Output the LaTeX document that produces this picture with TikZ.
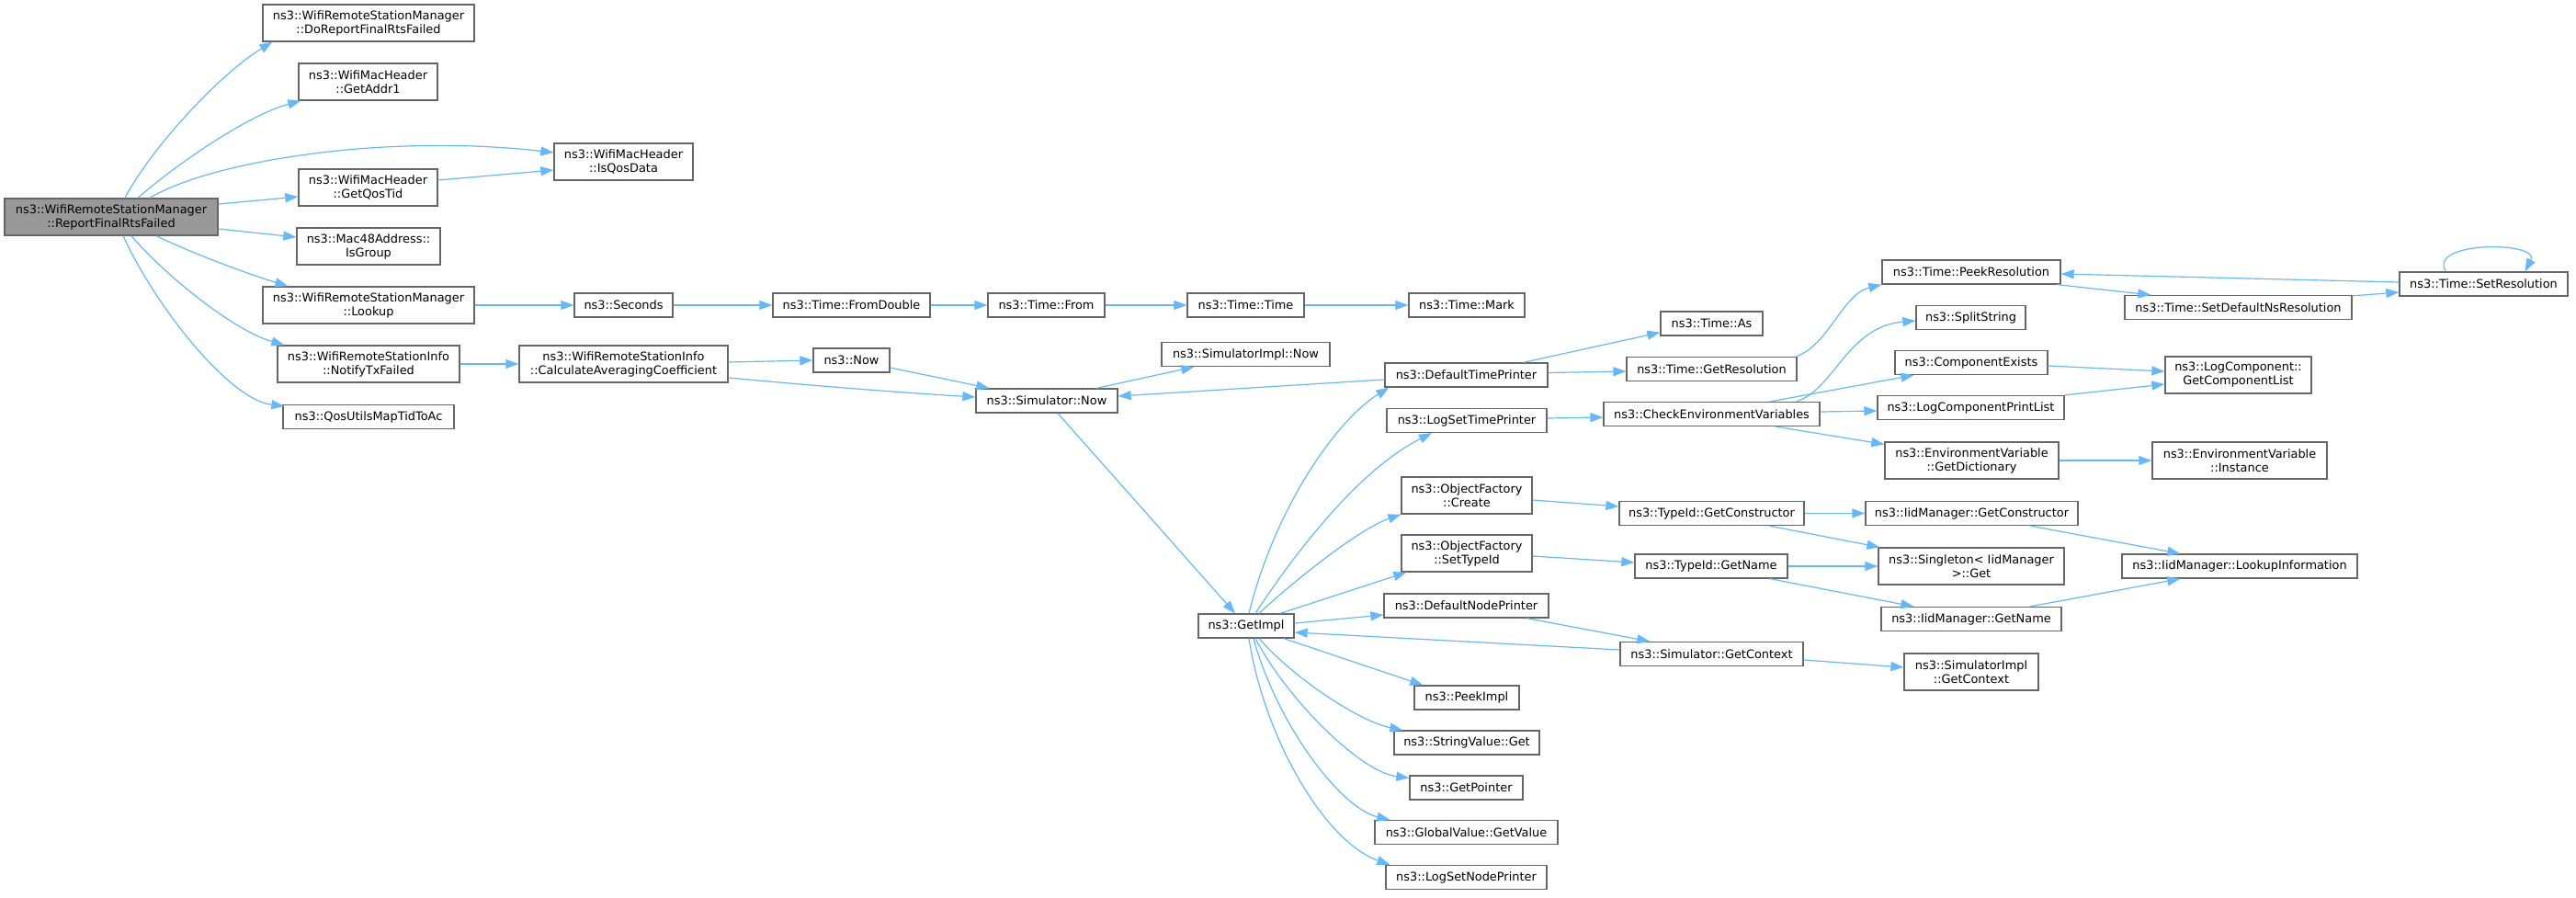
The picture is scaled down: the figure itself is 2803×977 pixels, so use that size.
\documentclass[tikz,border=0pt]{standalone}
\usepackage{fontspec}
\setmainfont{DejaVu Sans}
\usetikzlibrary{arrows.meta}
\definecolor{edgec}{HTML}{63B8FF}
\definecolor{bord}{HTML}{666666}
\definecolor{mainfill}{HTML}{999999}
\tikzset{
  fn/.style={draw=bord, line width=1.3pt, fill=white, font=\fontsize{12.9}{15}\selectfont,
    align=center, inner sep=0pt, text=black},
  one/.style={fn, minimum height=26pt},
  two/.style={fn, minimum height=40pt},
  edge/.style={draw=edgec, line width=1.2pt, -{Triangle[length=14pt,width=10pt]}},
}
\begin{document}
\begin{tikzpicture}[x=1pt,y=-1pt]
\useasboundingbox (0,0) rectangle (2803,977);
% column 0/1
\node[two, fill=mainfill, minimum width=232pt] (main) at (121,236) {ns3::WifiRemoteStationManager\\::ReportFinalRtsFailed};
\node[two, minimum width=230pt] (doreport) at (401,25) {ns3::WifiRemoteStationManager\\::DoReportFinalRtsFailed};
\node[two, minimum width=151pt] (getaddr1) at (400.5,89) {ns3::WifiMacHeader\\::GetAddr1};
\node[two, minimum width=151pt] (getqostid) at (400.5,204) {ns3::WifiMacHeader\\::GetQosTid};
\node[two, minimum width=156pt] (isgroup) at (401,268) {ns3::Mac48Address::\\IsGroup};
\node[two, minimum width=230pt] (lookup) at (401,332) {ns3::WifiRemoteStationManager\\::Lookup};
\node[two, minimum width=198pt] (notify) at (401,396) {ns3::WifiRemoteStationInfo\\::NotifyTxFailed};
\node[one, minimum width=186pt] (qosutils) at (401,453.5) {ns3::QosUtilsMapTidToAc};
% column 2
\node[two, minimum width=151pt] (isqosdata) at (678.5,176) {ns3::WifiMacHeader\\::IsQosData};
\node[one, minimum width=107pt] (seconds) at (678.5,332) {ns3::Seconds};
\node[two, minimum width=227pt] (calcavg) at (678.5,396) {ns3::WifiRemoteStationInfo\\::CalculateAveragingCoefficient};
% column 3
\node[one, minimum width=171pt] (fromdouble) at (926.5,332) {ns3::Time::FromDouble};
\node[one, minimum width=83pt] (now) at (926.5,392) {ns3::Now};
% column 4
\node[one, minimum width=127pt] (timefrom) at (1138.5,332) {ns3::Time::From};
\node[one, minimum width=154pt] (simnow) at (1139,436) {ns3::Simulator::Now};
% column 5
\node[one, minimum width=127pt] (timetime) at (1355.5,332) {ns3::Time::Time};
\node[one, minimum width=183pt] (simimplnow) at (1355.5,385.5) {ns3::SimulatorImpl::Now};
\node[one, minimum width=104pt] (getimpl) at (1356,681) {ns3::GetImpl};
% column 6
\node[one, minimum width=126pt] (mark) at (1596,332) {ns3::Time::Mark};
\node[one, minimum width=177pt] (deftimeprinter) at (1595.5,408) {ns3::DefaultTimePrinter};
\node[one, minimum width=174pt] (logsettimeprinter) at (1596,457.5) {ns3::LogSetTimePrinter};
\node[two, minimum width=142pt] (objcreate) at (1596,539) {ns3::ObjectFactory\\::Create};
\node[two, minimum width=142pt] (objsettypeid) at (1596,602) {ns3::ObjectFactory\\::SetTypeId};
\node[one, minimum width=179pt] (defnodeprinter) at (1595.5,659) {ns3::DefaultNodePrinter};
\node[one, minimum width=114pt] (peekimpl) at (1596,759) {ns3::PeekImpl};
\node[one, minimum width=158pt] (stringget) at (1596,808) {ns3::StringValue::Get};
\node[one, minimum width=123pt] (getpointer) at (1595.5,857) {ns3::GetPointer};
\node[one, minimum width=199pt] (globalgetvalue) at (1595.5,905.5) {ns3::GlobalValue::GetValue};
\node[one, minimum width=175pt] (logsetnodeprinter) at (1595.5,954.5) {ns3::LogSetNodePrinter};
% column 7
\node[one, minimum width=111pt] (timeas) at (1862.5,352) {ns3::Time::As};
\node[one, minimum width=185pt] (getres) at (1862.5,401.5) {ns3::Time::GetResolution};
\node[one, minimum width=235pt] (checkenv) at (1862.5,450.5) {ns3::CheckEnvironmentVariables};
\node[one, minimum width=201pt] (typeidgetctor) at (1862.5,558.5) {ns3::TypeId::GetConstructor};
\node[one, minimum width=166pt] (typeidgetname) at (1862,616) {ns3::TypeId::GetName};
\node[one, minimum width=199pt] (simgetctx) at (1862.5,711.5) {ns3::Simulator::GetContext};
% column 8
\node[one, minimum width=194pt] (peekres) at (2145,296) {ns3::Time::PeekResolution};
\node[one, minimum width=119pt] (splitstring) at (2144.5,345.5) {ns3::SplitString};
\node[one, minimum width=166pt] (compexists) at (2145,394.5) {ns3::ComponentExists};
\node[one, minimum width=203pt] (logcompprintlist) at (2144.5,443.5) {ns3::LogComponentPrintList};
\node[two, minimum width=189pt] (getdict) at (2145.5,501) {ns3::EnvironmentVariable\\::GetDictionary};
\node[one, minimum width=231pt] (iidgetctor) at (2145.5,558.5) {ns3::IidManager::GetConstructor};
\node[two, minimum width=202pt] (singleton) at (2145,616) {ns3::Singleton< IidManager\\>::Get};
\node[one, minimum width=196pt] (iidgetname) at (2145,673.5) {ns3::IidManager::GetName};
\node[two, minimum width=146pt] (simimplgetctx) at (2145,731) {ns3::SimulatorImpl\\::GetContext};
% column 9
\node[one, minimum width=247pt] (setdefns) at (2435.5,334.5) {ns3::Time::SetDefaultNsResolution};
\node[two, minimum width=159pt] (getcomplist) at (2435.5,408) {ns3::LogComponent::\\GetComponentList};
\node[two, minimum width=190pt] (envinstance) at (2437,501) {ns3::EnvironmentVariable\\::Instance};
\node[one, minimum width=256pt] (lookupinfo) at (2437,616) {ns3::IidManager::LookupInformation};
% column 10
\node[one, minimum width=183pt] (setres) at (2702.5,309) {ns3::Time::SetResolution};

% ---- edges from main
\draw[edge] ([xshift=15pt]main.north) .. controls (165,160) and (240,80) .. ([xshift=11pt]doreport.south west);
\draw[edge] ([xshift=29pt]main.north) .. controls (190,180) and (270,125) .. ([xshift=3pt]getaddr1.south west);
\draw[edge] ([xshift=42pt]main.north) .. controls (230,175) and (420,145) .. ([yshift=10pt]isqosdata.west);
\draw[edge] ([yshift=14pt]main.east) -- ([yshift=-10pt]getqostid.west);
\draw[edge] ([yshift=8pt]getqostid.east) -- ([yshift=-9pt]isqosdata.west);
\draw[edge] ([yshift=-13pt]main.east) -- ([yshift=10pt]isgroup.west);
\draw[edge] ([xshift=49pt]main.south) .. controls (215,278) and (270,298) .. ([xshift=28pt]lookup.north west);
\draw[edge] ([xshift=22pt]main.south) .. controls (180,300) and (255,360) .. ([xshift=8pt]notify.north west);
\draw[edge] ([xshift=13pt]main.south) .. controls (170,335) and (250,435) .. ([xshift=2pt,yshift=-2pt]qosutils.north west);
% ---- time chain
\draw[edge] (lookup.east) -- (seconds.west);
\draw[edge] (seconds.east) -- (fromdouble.west);
\draw[edge] (fromdouble.east) -- (timefrom.west);
\draw[edge] (timefrom.east) -- (timetime.west);
\draw[edge] (timetime.east) -- (mark.west);
% ---- notify chain
\draw[edge] (notify.east) -- (calcavg.west);
\draw[edge] ([yshift=2pt]calcavg.east) -- (now.west);
\draw[edge] ([yshift=-15pt]calcavg.east) .. controls (900,421) and (980,427) .. ([yshift=4pt]simnow.west);
\draw[edge] ([yshift=-8pt]now.east) -- ([xshift=15pt]simnow.north west);
\draw[edge] ([xshift=54pt]simnow.north) -- ([xshift=36pt]simimplnow.south west);
\draw[edge] ([yshift=-5pt]deftimeprinter.west) -- ([yshift=5pt]simnow.east);
\draw[edge] ([xshift=12pt]simnow.south) -- ([xshift=-12pt]getimpl.north);
% ---- GetImpl fan
\draw[edge] ([xshift=3pt]getimpl.north) .. controls (1385,560) and (1450,460) .. ([xshift=5pt]deftimeprinter.south west);
\draw[edge] ([xshift=10pt]getimpl.north) .. controls (1410,600) and (1480,510) .. ([xshift=-38pt]logsettimeprinter.south);
\draw[edge] ([xshift=14pt]getimpl.north) .. controls (1410,630) and (1480,575) .. (objcreate.south west);
\draw[edge] ([xshift=37pt]getimpl.north) -- ([xshift=6pt]objsettypeid.south west);
\draw[edge] ([yshift=3pt]getimpl.east) -- ([yshift=-10pt]defnodeprinter.west);
\draw[edge] ([yshift=4.5pt]simgetctx.west) -- ([yshift=-7pt]getimpl.east);
\draw[edge] ([xshift=41pt]getimpl.south) -- ([xshift=10pt]peekimpl.north west);
\draw[edge] ([xshift=14pt]getimpl.south) .. controls (1410,740) and (1480,785) .. ([xshift=10pt]stringget.north west);
\draw[edge] ([xshift=10pt]getimpl.south) .. controls (1400,760) and (1480,840) .. ([yshift=-3pt]getpointer.north west);
\draw[edge] ([xshift=8pt]getimpl.south) .. controls (1390,790) and (1460,880) .. ([xshift=17pt]globalgetvalue.north west);
\draw[edge] ([xshift=3pt]getimpl.south) .. controls (1375,800) and (1440,915) .. ([xshift=5pt]logsetnodeprinter.north west);
% ---- DefaultTimePrinter
\draw[edge] ([xshift=62pt]deftimeprinter.north) -- ([yshift=4pt]timeas.south west);
\draw[edge] ([yshift=2.5pt]deftimeprinter.east) -- ([yshift=-2.5pt]getres.west);
\draw[edge] ([xshift=-1pt]getres.north east) .. controls (1990,375) and (2005,320) .. (peekres.south west);
\draw[edge] ([xshift=-4pt]peekres.south east) -- ([xshift=29pt]setdefns.north west);
\draw[edge] ([yshift=-1pt]setdefns.north east) -- ([yshift=-9pt]setres.west);
\draw[edge] ([yshift=2pt]setres.west) -- ([yshift=-2pt]peekres.east);
\draw[edge] ([xshift=-41pt]setres.north) .. controls (2640,262) and (2765,262) .. ([xshift=45pt]setres.north);
% ---- LogSetTimePrinter
\draw[edge] ([yshift=2.5pt]logsettimeprinter.east) -- ([yshift=-3.5pt]checkenv.west);
\draw[edge] ([xshift=92pt]checkenv.north) .. controls (1995,425) and (2010,355) .. ([yshift=-3.5pt]splitstring.west);
\draw[edge] ([xshift=64pt]checkenv.north) -- ([xshift=21pt]compexists.south west);
\draw[edge] ([yshift=2.5pt]checkenv.east) -- ([yshift=-3.5pt]logcompprintlist.west);
\draw[edge] ([xshift=70pt]checkenv.south) -- ([yshift=-3pt]getdict.north west);
\draw[edge] ([yshift=-3.5pt]compexists.east) -- ([yshift=4pt]getcomplist.west);
\draw[edge] (logcompprintlist.north east) -- ([yshift=-10pt]getcomplist.west);
\draw[edge] (getdict.east) -- (envinstance.west);
% ---- ObjectFactory
\draw[edge] ([yshift=-5pt]objcreate.east) -- ([yshift=7.5pt]typeidgetctor.west);
\draw[edge] ([yshift=-3pt]objsettypeid.east) -- ([yshift=4pt]typeidgetname.west);
\draw[edge] (typeidgetctor.east) -- (iidgetctor.west);
\draw[edge] ([xshift=63pt]typeidgetctor.south) -- ([xshift=2pt]singleton.north west);
\draw[edge] (typeidgetname.east) -- (singleton.west);
\draw[edge] ([xshift=64pt]typeidgetname.south) -- ([xshift=36pt]iidgetname.north west);
\draw[edge] ([xshift=64pt]iidgetctor.south) -- ([xshift=64pt]lookupinfo.north west);
\draw[edge] ([xshift=64pt]iidgetname.north) -- ([xshift=64pt]lookupinfo.south west);
% ---- DefaultNodePrinter
\draw[edge] ([xshift=66pt]defnodeprinter.south) -- ([xshift=33pt]simgetctx.north west);
\draw[edge] ([yshift=-6.5pt]simgetctx.east) -- ([yshift=5pt]simimplgetctx.west);
\end{tikzpicture}
\end{document}
